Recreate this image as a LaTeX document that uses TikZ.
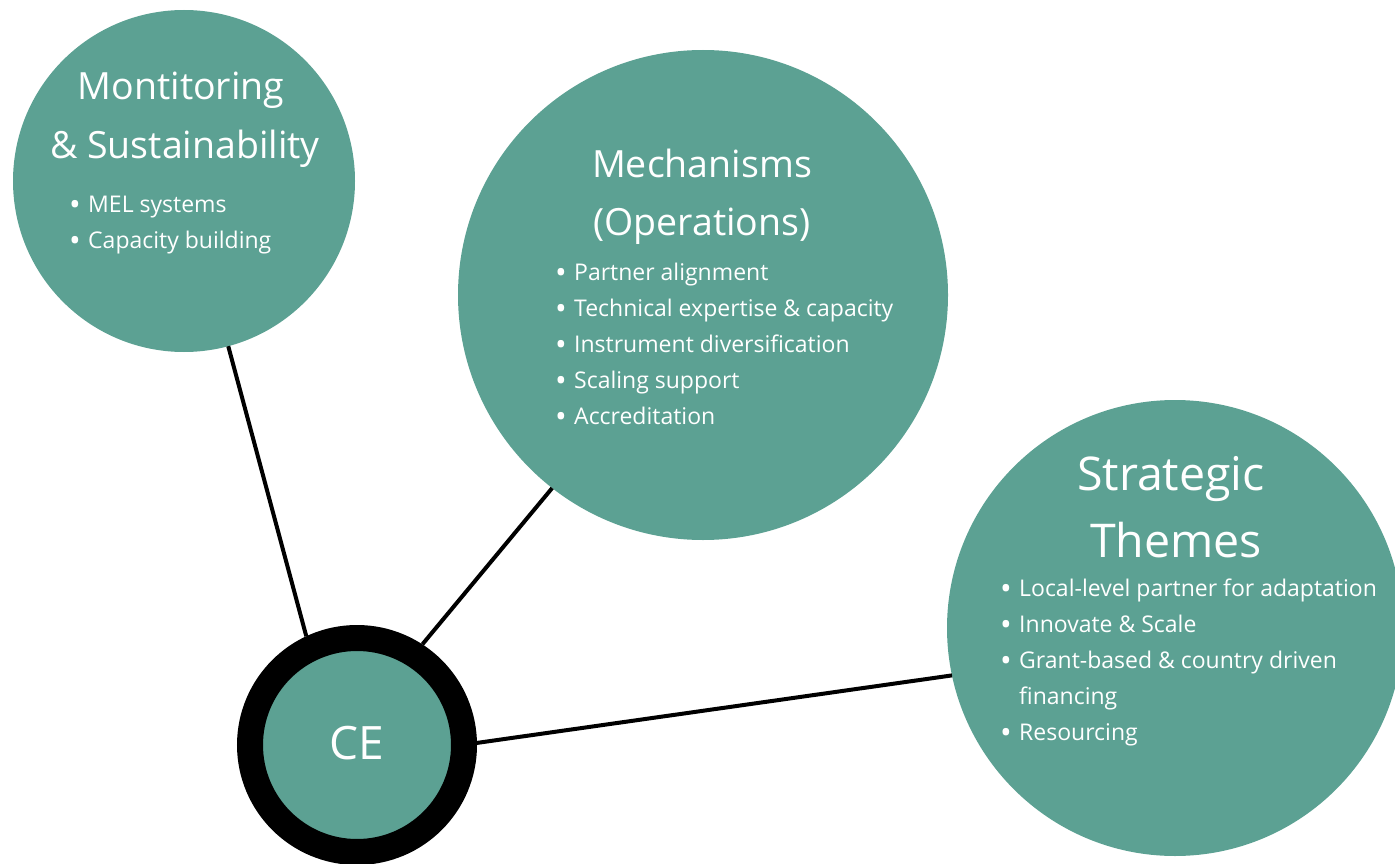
\documentclass[tikz,border=0pt]{standalone}
\usepackage{fontspec}
\usepackage{graphicx}
\setmainfont{Open Sans}
\definecolor{tealfill}{HTML}{5CA193}
\begin{document}
\begin{tikzpicture}[x=1pt,y=-1pt,
  bubble/.style={circle,fill=tealfill,draw=none,inner sep=0pt,outer sep=0pt},
  hub/.style={circle,fill=tealfill,draw=black,line width=26pt,inner sep=0pt},
  link/.style={draw=black,line width=4pt},
  title/.style={text=white,inner sep=0pt,anchor=base,font=\fontsize{37.5}{46}\selectfont},
  bigtitle/.style={text=white,inner sep=0pt,anchor=base,font=\fontsize{46.5}{56}\selectfont},
  items/.style={text=white,inner sep=0pt,anchor=base west,font=\fontsize{23}{36}\selectfont}
]
\useasboundingbox (0,0) rectangle (1395,864);
\newcommand{\itm}{\makebox[20pt][l]{\hspace{1pt}\raisebox{-3.8pt}{\scalebox{1.35}{\textbullet}}}}
% circles
\node[bubble,minimum size=342pt] (mon) at (184,181) {};
\node[bubble,minimum size=490pt] (mech) at (703,295) {};
\node[bubble,minimum size=456pt] (strat) at (1175,628) {};
\node[hub,minimum size=214pt] (ce) at (357,745) {};
% connectors
\draw[link] (mon.-75.6) -- (ce.115);
\draw[link] (mech.-128.7) -- (ce.57);
\draw[link] (strat.-168) -- (ce.1.4);
% CE label
\node[text=white,inner sep=0pt,anchor=base,font=\fontsize{46}{50}\selectfont] (celabel) at (357,759) {CE};
% Monitoring
\node[title] (mon1) at (181,100) {Montitoring};
\node[title] (mon2) at (185,158) {\& Sustainability};
\node[items] (monlist) at (68,212) {\begin{tabular}[t]{@{}l@{}}
\itm MEL systems\\
\itm Capacity building
\end{tabular}};
% Mechanisms
\node[title] (mech1) at (702,178) {Mechanisms};
\node[title] (mech2) at (702,235) {(Operations)};
\node[items] (mechlist) at (554,280) {\begin{tabular}[t]{@{}l@{}}
\itm Partner alignment\\
\itm Technical expertise \& capacity\\
\itm Instrument diversification\\
\itm Scaling support\\
\itm Accreditation
\end{tabular}};
% Strategic
\node[bigtitle] (st1) at (1171,490) {Strategic};
\node[bigtitle] (st2) at (1176,557) {Themes};
\node[items] (stlist) at (999,596) {\begin{tabular}[t]{@{}l@{}}
\itm Local-level partner for adaptation\\
\itm Innovate \& Scale\\
\itm Grant-based \& country driven\\
\makebox[20pt][l]{}financing\\
\itm Resourcing
\end{tabular}};
\end{tikzpicture}
\end{document}
